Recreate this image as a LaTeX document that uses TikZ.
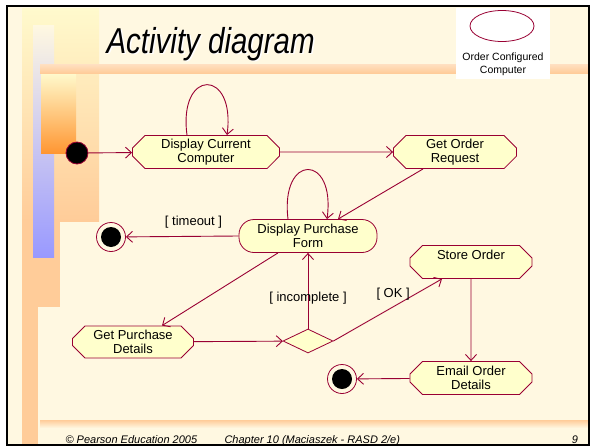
\documentclass[tikz,border=0pt]{standalone}
\usepackage{fontspec}
\setmainfont{Liberation Sans}
\usetikzlibrary{arrows.meta, shapes.misc, shapes.geometric}
\definecolor{rose}{RGB}{153,0,51}
\definecolor{cream}{RGB}{255,248,225}
\definecolor{pale}{RGB}{255,255,204}
\definecolor{peach}{RGB}{255,204,153}
\definecolor{lemon}{RGB}{255,250,205}
\definecolor{lilac}{RGB}{153,153,255}
\definecolor{amber}{RGB}{255,150,50}

\begin{document}
\begin{tikzpicture}[x=1pt, y=-1pt,
  act/.style={chamfered rectangle, chamfered rectangle xsep=9pt, draw=rose, fill=pale, line width=.8pt,
    inner sep=0pt, minimum height=33pt, align=center, font=\fontsize{13}{14}\selectfont},
  flow/.style={draw=rose, line width=.9pt, -{Straight Barb[length=6pt, width=11pt]}},
  guard/.style={font=\fontsize{13}{14}\selectfont},
  stop/.style={circle, draw=rose, line width=.8pt, fill=cream, minimum size=29pt,
    path picture={\fill [black] (path picture bounding box.center) circle (10pt);}}]
\useasboundingbox (0, 0) rectangle (591, 447);
% slide background
\fill [white] (0, 0) rectangle (591, 447);
\fill [cream] (7, 6) rectangle (589, 445);
\shade [top color=lemon, bottom color=peach] (22, 8) rectangle (38, 221);
\fill [peach] (22, 221) rectangle (38, 445);
\shade [top color=lemon, bottom color=peach] (28, 8) rectangle (99, 221);
\fill [peach] (35, 221) rectangle (60, 307);
\shade [top color=cream, bottom color=lilac] (33, 25) rectangle (54, 257);
\shade [top color=lemon, bottom color=amber] (41, 73) rectangle (76, 153);
\shade [top color=peach!60, bottom color=peach] (40, 64) rectangle (589, 73);
\shade [top color=peach, bottom color=cream] (40, 420) rectangle (589, 428);
\draw [line width=2pt] (7, 6) rectangle (589, 445);
% title and footer
\node [anchor=base west, white, font=\fontsize{29.5}{32}\selectfont\itshape] at (104.5, 54.5) {\scalebox{1}[1.22]{Activity diagram}};
\node [anchor=base west, font=\fontsize{29.5}{32}\selectfont\itshape] at (103, 53) {\scalebox{1}[1.22]{Activity diagram}};
\node [anchor=base west, font=\fontsize{11}{12}\selectfont\itshape] at (62, 443) {\textcopyright{} Pearson Education 2005};
\node [anchor=base west, font=\fontsize{11}{12}\selectfont\itshape] at (221, 443) {Chapter 10 (Maciaszek - RASD 2/e)};
\node [anchor=base, font=\fontsize{11}{12}\selectfont\itshape] at (575, 443) {9};
% object legend
\fill [white] (456, 8) rectangle (550, 79);
\node at (502, 26) [name=obj, ellipse, draw=rose, line width=.8pt, minimum width=64pt, minimum height=31pt] {};
\node at (503, 64) [name=objtext, align=center, font=\fontsize{10.5}{13}\selectfont] {Order Configured\\Computer};
% activity states
\node at (77, 153) [name=start, ellipse, draw=rose, fill=black, line width=.8pt, minimum width=22pt, minimum height=22pt] {};
\node at (206, 152) [name=dcc, act, minimum width=147pt] {Display Current\\Computer};
\node at (455, 152) [name=gor, act, minimum width=123pt] {Get Order\\Request};
\node at (308, 236) [name=dpf, act, rectangle, rounded corners=15pt, minimum width=138pt] {Display Purchase\\Form};
\node at (133, 342) [name=gpd, act, minimum width=121pt, minimum height=32pt] {Get Purchase\\Details};
\node at (471, 262) [name=so, act, minimum width=122pt] {Store Order\\~};
\node at (471, 378) [name=eod, act, minimum width=122pt] {Email Order\\Details};
\node at (308, 341) [name=choice, diamond, draw=rose, fill=pale, line width=.8pt, inner sep=0pt, minimum width=50pt, minimum height=24pt] {};
\node at (111, 237) [name=stop1, stop] {};
\node at (342, 379) [name=stop2, stop] {};
% transitions
\draw [flow] (start) -- (dcc);
\draw [flow] (dcc) -- (gor);
\draw [flow] ([xshift=-19pt]dcc.north) .. controls +(-9, -67) and +(9, -67) .. ([xshift=21pt]dcc.north);
\draw [flow] ([xshift=-32pt]gor.south) -- ([xshift=30pt]dpf.north);
\draw [flow] ([xshift=-20pt]dpf.north) .. controls +(-8, -66) and +(9, -66) .. ([xshift=19pt]dpf.north);
\draw [flow] (dpf.west) -- (stop1) node [guard, pos=.4, above=4pt] {[ timeout ]};
\draw [flow] ([xshift=-30pt]dpf.south) -- ([xshift=29pt]gpd.north);
\draw [flow] (gpd) -- (choice);
\draw [flow] (choice) -- (dpf) node [guard, pos=.4] {[ incomplete ]};
\draw [flow] (choice.east) -- ([xshift=-29pt]so.south) node [guard, pos=.55, above=3pt] {[ OK ]};
\draw [flow] (so) -- (eod);
\draw [flow] (eod) -- (stop2);
\end{tikzpicture}
\end{document}
